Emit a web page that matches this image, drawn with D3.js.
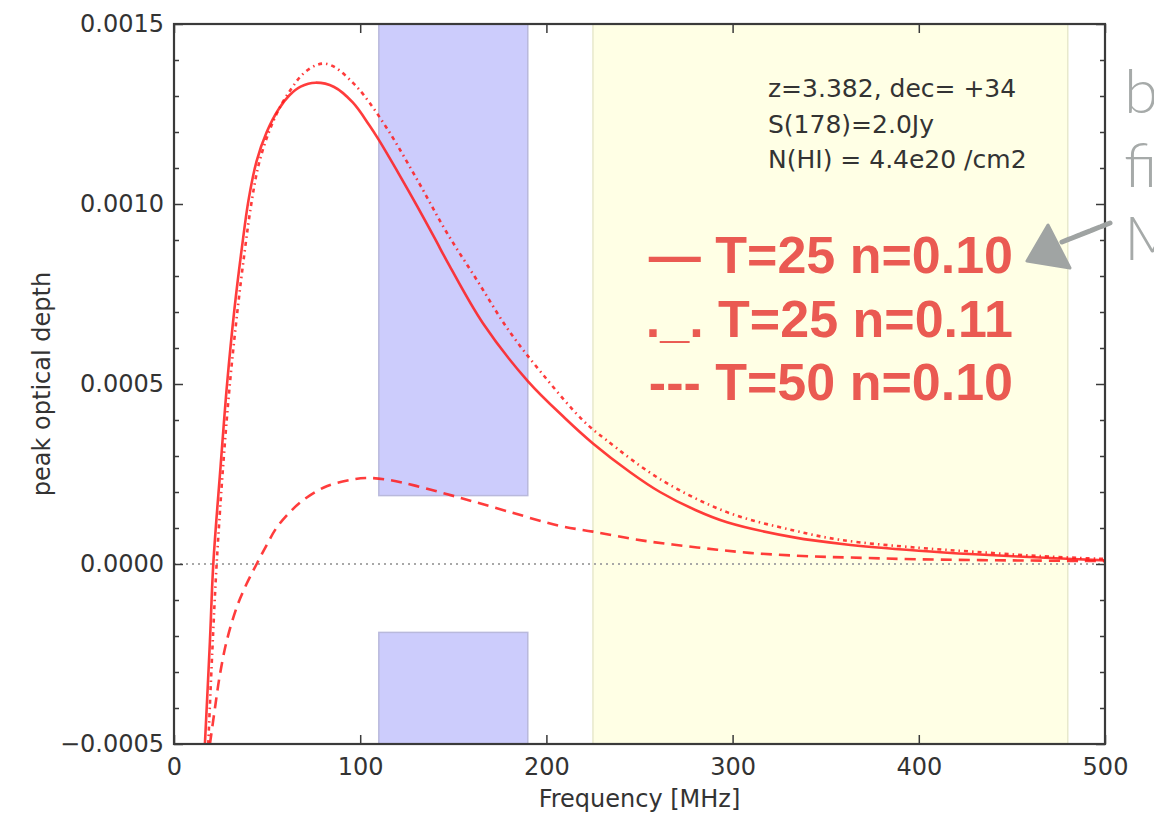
<!DOCTYPE html>
<html>
<head>
<meta charset="utf-8">
<script src="https://cdn.jsdelivr.net/npm/d3@7"></script>
<style>
  body { margin: 0; background: #fff; }
  svg { display: block; }
</style>
</head>
<body>
<svg id="chart"></svg>
<script>
const width = 1154, height = 819;

// frequency [MHz] / peak optical depth
const freq_solid = [16.6, 19.3, 21.1, 25, 28.5, 32.5, 36.5, 40, 44.4, 49.8, 56, 62, 68, 76, 86, 96, 105, 110, 121.5, 130.5, 140, 148, 166, 190, 210, 225, 245, 261, 280, 297, 333, 360, 400, 430, 465, 500];
const tau_solid = [-0.0005, -0.000214, 0, 0.00027, 0.0005, 0.00071, 0.00088, 0.00101, 0.00112, 0.0012, 0.001262, 0.001302, 0.001326, 0.001337, 0.001325, 0.001282, 0.001218, 0.001178, 0.001077, 0.000995, 0.000905, 0.000828, 0.000668, 0.000508, 0.000405, 0.000335, 0.000255, 0.0002, 0.00015, 0.000116, 0.000074, 0.000055, 0.000037, 0.000027, 0.000018, 0.00001];

const freq_dashdot = [18.4, 20.5, 22.9, 26.5, 30, 34, 38, 41.5, 45.5, 51, 57, 63, 69, 76, 81, 87, 96, 102, 115, 131, 146, 163, 180, 198, 220, 232, 261, 297, 333, 358, 400, 430, 465, 500];
const tau_dashdot = [-0.0005, -0.00025, 0, 0.00028, 0.0005, 0.0007, 0.00087, 0.001, 0.00111, 0.0012, 0.00127, 0.00132, 0.00136, 0.001385, 0.00139, 0.001378, 0.001337, 0.001302, 0.001205, 0.001064, 0.000925, 0.000786, 0.000647, 0.000527, 0.000397, 0.000345, 0.000236, 0.000144, 0.000093, 0.000067, 0.000045, 0.000034, 0.000022, 0.000014];

const freq_dashed = [19.3, 22, 24.7, 28.3, 33.7, 39, 44.4, 50, 55, 62, 69.5, 82, 95, 103, 115, 130, 153.6, 178.7, 207, 225, 252, 281, 309, 343, 363, 400, 450, 500];
const tau_dashed = [-0.0005, -0.0004, -0.000306, -0.000214, -0.00012, -0.000055, 0, 0.000055, 0.0001, 0.000143, 0.000178, 0.000216, 0.000234, 0.000239, 0.000234, 0.000217, 0.000184, 0.000147, 0.000106, 0.00009, 0.000065, 0.000046, 0.000031, 0.000021, 0.000018, 0.000013, 0.00001, 0.000008];

// shaded bands [MHz]
const blue_band = [110, 190];
const blue_gap = [-0.00019, 0.00019];
const yellow_band = [225, 480];

const x_ticks = [0, 100, 200, 300, 400, 500];
const y_ticks = [-0.0005, 0, 0.0005, 0.0010, 0.0015];

const info_lines = ["z=3.382, dec= +34", "S(178)=2.0Jy", "N(HI) = 4.4e20 /cm2"];
const legend_lines = ["\u2014 T=25 n=0.10", "._. T=25 n=0.11", "--- T=50 n=0.10"];
const side_lines = ["b", "fi", "M"];

const margin = {left: 174, right: 49, top: 24, bottom: 75};

const svg = d3.select("#chart")
    .attr("width", width)
    .attr("height", height)
    .attr("viewBox", [0, 0, width, height]);

svg.append("rect").attr("width", width).attr("height", height).attr("fill", "#fff");

const x = d3.scaleLinear().domain([0, 500]).range([margin.left, width - margin.right]);
const y = d3.scaleLinear().domain([-0.0005, 0.0015]).range([height - margin.bottom, margin.top]);

svg.append("clipPath").attr("id", "plot-clip")
  .append("rect")
    .attr("x", x(0)).attr("y", y(0.0015))
    .attr("width", x(500) - x(0)).attr("height", y(-0.0005) - y(0.0015));

// bands
svg.append("rect")
    .attr("x", x(yellow_band[0])).attr("y", y(0.0015))
    .attr("width", x(yellow_band[1]) - x(yellow_band[0]))
    .attr("height", y(-0.0005) - y(0.0015))
    .attr("fill", "#ffffe5")
    .attr("stroke", "#e8e9cc").attr("stroke-width", 1.5);

const blue_spans = [[blue_gap[1], 0.0015], [-0.0005, blue_gap[0]]];
svg.append("g").selectAll("rect")
    .data(blue_spans)
    .join("rect")
    .attr("x", x(blue_band[0]))
    .attr("y", d => y(d[1]))
    .attr("width", x(blue_band[1]) - x(blue_band[0]))
    .attr("height", d => y(d[0]) - y(d[1]))
    .attr("fill", "#ccccfc")
    .attr("stroke", "#b9b9dc").attr("stroke-width", 1.5);

// zero line
svg.append("line")
    .attr("x1", x(0)).attr("x2", x(500))
    .attr("y1", y(0)).attr("y2", y(0))
    .attr("stroke", "#a8a8a8").attr("stroke-width", 2)
    .attr("stroke-dasharray", "2,4");

// curves
const line = d3.line()
    .x(d => x(d[0]))
    .y(d => y(d[1]))
    .curve(d3.curveCatmullRom.alpha(0.5));

const series = [
    {f: freq_solid, t: tau_solid, dash: null},
    {f: freq_dashdot, t: tau_dashdot, dash: "4,4,1.5,4"},
    {f: freq_dashed, t: tau_dashed, dash: "11,7"}
];

svg.append("g")
    .attr("clip-path", "url(#plot-clip)")
  .selectAll("path")
    .data(series)
    .join("path")
    .attr("d", s => line(s.f.map((f, i) => [f, s.t[i]])))
    .attr("fill", "none")
    .attr("stroke", "#ff1a1a")
    .attr("stroke-opacity", 0.85)
    .attr("stroke-width", 2.6)
    .attr("stroke-dasharray", s => s.dash);

// axes, matplotlib style ticks pointing inside
const tick_font = "'DejaVu Sans', sans-serif";
const axis_color = "#3a3a3a";

function style_axis(g) {
    g.select(".domain").remove();
    g.selectAll(".tick line").attr("stroke", axis_color).attr("stroke-width", 1.5);
    g.selectAll(".tick text")
        .attr("fill", "#333")
        .attr("font-family", tick_font)
        .attr("font-size", 24);
}

svg.append("g")
    .attr("transform", `translate(0,${y(-0.0005)})`)
    .call(d3.axisBottom(x).tickValues(x_ticks).tickSize(-9).tickPadding(14).tickFormat(d3.format("d")))
    .call(style_axis);

svg.append("g")
    .attr("transform", `translate(0,${y(0.0015)})`)
    .call(d3.axisTop(x).tickValues(x_ticks).tickSize(-9).tickFormat(""))
    .call(style_axis);

svg.append("g")
    .attr("transform", `translate(${x(0)},0)`)
    .call(d3.axisLeft(y).tickValues(y_ticks).tickSize(-9).tickPadding(10).tickFormat(d3.format(".4f")))
    .call(style_axis);

svg.append("g")
    .attr("transform", `translate(${x(500)},0)`)
    .call(d3.axisRight(y).tickValues(y_ticks).tickSize(-9).tickFormat(""))
    .call(style_axis);

// minor y ticks
const minor = d3.range(-5, 16).map(i => i * 0.0001).filter(v => !y_ticks.some(t => Math.abs(t - v) < 1e-9));
svg.append("g")
    .attr("transform", `translate(${x(0)},0)`)
    .call(d3.axisLeft(y).tickValues(minor).tickSize(-5).tickFormat(""))
    .call(style_axis);
svg.append("g")
    .attr("transform", `translate(${x(500)},0)`)
    .call(d3.axisRight(y).tickValues(minor).tickSize(-5).tickFormat(""))
    .call(style_axis);

// frame
svg.append("rect")
    .attr("x", x(0)).attr("y", y(0.0015))
    .attr("width", x(500) - x(0)).attr("height", y(-0.0005) - y(0.0015))
    .attr("fill", "none")
    .attr("stroke", axis_color).attr("stroke-width", 2.2);

// axis labels
svg.append("text")
    .attr("x", (x(0) + x(500)) / 2).attr("y", 807)
    .attr("text-anchor", "middle")
    .attr("font-family", tick_font).attr("font-size", 24).attr("fill", "#333")
    .text("Frequency [MHz]");

svg.append("text")
    .attr("transform", `translate(50,${(y(0.0015) + y(-0.0005)) / 2}) rotate(-90)`)
    .attr("text-anchor", "middle")
    .attr("font-family", tick_font).attr("font-size", 24).attr("fill", "#333")
    .text("peak optical depth");

// info text
svg.append("g").selectAll("text")
    .data(info_lines)
    .join("text")
    .attr("x", 768)
    .attr("y", (d, i) => 97 + i * 35.5)
    .attr("font-family", tick_font).attr("font-size", 25).attr("fill", "#333")
    .text(d => d);

// legend (overlaid annotation)
svg.append("g").selectAll("text")
    .data(legend_lines)
    .join("text")
    .attr("x", 1013)
    .attr("y", (d, i) => 273 + i * 63.5)
    .attr("text-anchor", "end")
    .attr("font-family", "'Liberation Sans', Arial, sans-serif")
    .attr("font-weight", "bold")
    .attr("font-size", 52)
    .attr("fill", "#ea5a52")
    .text(d => d);

// cut-off side note and arrow
svg.append("g").selectAll("text")
    .data(side_lines)
    .join("text")
    .attr("x", 1124)
    .attr("y", (d, i) => 113 + i * 73.5)
    .attr("font-family", "Lato, 'Open Sans', sans-serif")
    .attr("font-weight", 300)
    .attr("font-size", 62)
    .attr("fill", "#a6aaa9")
    .text(d => d);

svg.append("line")
    .attr("x1", 1110).attr("y1", 223)
    .attr("x2", 1062).attr("y2", 242)
    .attr("stroke", "#9fa3a2").attr("stroke-width", 5)
    .attr("stroke-dasharray", "9,2")
    .attr("stroke-linecap", "round");

svg.append("path")
    .attr("d", "M1048,225 L1027,261 L1070,268 Z")
    .attr("fill", "#a0a4a3")
    .attr("stroke", "#a0a4a3").attr("stroke-width", 3)
    .attr("stroke-linejoin", "round");
</script>
</body>
</html>
